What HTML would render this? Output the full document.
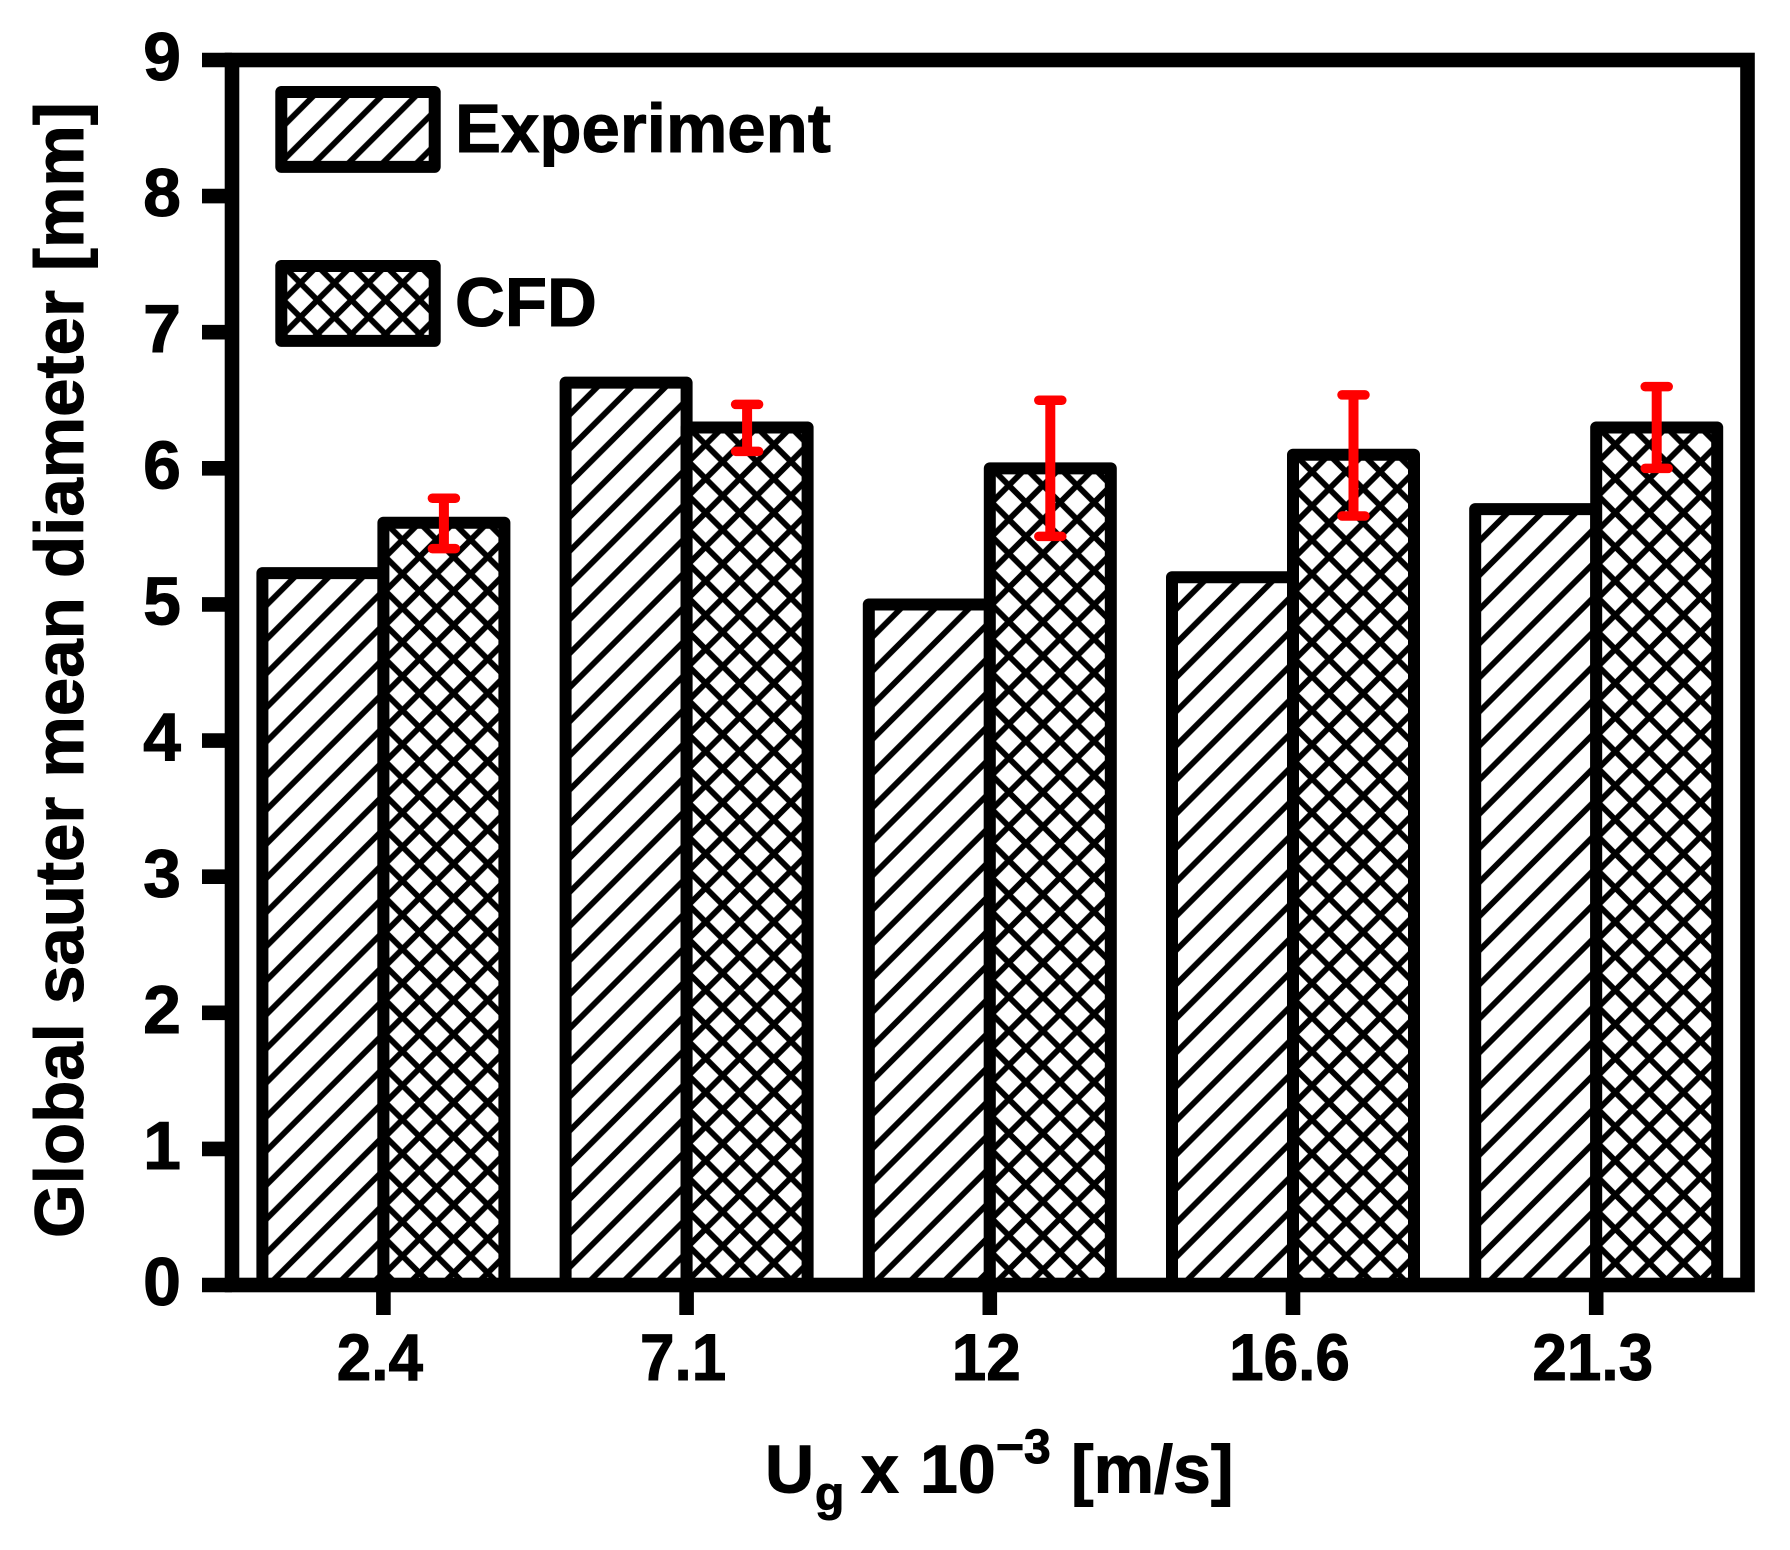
<!DOCTYPE html>
<html lang="en">
<head>
<meta charset="utf-8">
<title>Global sauter mean diameter chart</title>
<style>
html,body{margin:0;padding:0;background:#fff;width:1790px;height:1550px;overflow:hidden}
svg{display:block}
text{font-family:"Liberation Sans",Arial,sans-serif;font-weight:bold;fill:#000;stroke:#000;stroke-width:1}
</style>
</head>
<body>
<svg id="chart" xmlns="http://www.w3.org/2000/svg" width="1790" height="1550" viewBox="0 0 1790 1550">
  <rect x="0" y="0" width="1790" height="1550" fill="#fff"/>
  <defs id="defs"></defs>
  <g id="bars"></g>
  <g id="errors"></g>
  <g id="axes"></g>
  <g id="legend"></g>
  <text transform="translate(83,1238) rotate(-90)" font-size="69.05">Global sauter mean diameter [mm]</text>
  <text font-size="68"><tspan x="765" y="1492.7">U</tspan><tspan x="815" y="1510" font-size="48">g</tspan><tspan x="861" y="1492.7">x</tspan><tspan x="920" y="1492.7">10</tspan><tspan x="996" y="1463" font-size="48">−3</tspan><tspan x="1071" y="1492.7">[m/s]</tspan></text>
</svg>
<script>
const categories = ["2.4", "7.1", "12", "16.6", "21.3"];
const experimentValues = [5.23, 6.63, 5.0, 5.2, 5.7];
const cfdValues = [5.6, 6.3, 6.0, 6.1, 6.3];
const errorHigh = [5.78, 6.47, 6.5, 6.54, 6.6];
const errorLow = [5.41, 6.125, 5.5, 5.65, 6.0];
const yTickLabels = ["0", "1", "2", "3", "4", "5", "6", "7", "8", "9"];
const seriesNames = ["Experiment", "CFD"];

const NS = "http://www.w3.org/2000/svg";
const PLOT = {left: 232, right: 1747.5, top: 60, bottom: 1285};
const Y_MAX = 9;
const BAR_W = 121;
const HATCH = 34.1;

function yScale(v) { return PLOT.bottom - v * (PLOT.bottom - PLOT.top) / Y_MAX; }
function xScale(i) { return 383.4 + i * 303.2; }

function make(tag, attrs, parent) {
  const el = document.createElementNS(NS, tag);
  for (const k in attrs) el.setAttribute(k, attrs[k]);
  parent.appendChild(el);
  return el;
}

const defs = document.getElementById("defs");
let patCount = 0;
function hatchPattern(x, y, cross) {
  const id = "hatch" + (patCount++);
  const p = make("pattern", {id: id, patternUnits: "userSpaceOnUse", x: x + 2, y: y, width: HATCH, height: HATCH}, defs);
  const H = HATCH;
  let d = `M-6,6 L6,-6 M-6,${H + 6} L${H + 6},-6 M${H - 6},${H + 6} L${H + 6},${H - 6}`;
  if (cross) d += ` M${H - 6},-6 L${H + 6},6 M-6,-6 L${H + 6},${H + 6} M-6,${H - 6} L6,${H + 6}`;
  make("path", {d: d, stroke: "#000", "stroke-width": 5.8, fill: "none"}, p);
  return "url(#" + id + ")";
}

function drawBar(parent, x, y, w, h, cross) {
  make("rect", {x: x, y: y, width: w, height: h, fill: "#fff"}, parent);
  const hatch = make("rect", {x: x, y: y, width: w, height: h, fill: hatchPattern(x, y, cross)}, parent);
  const frame = make("rect", {x: x, y: y, width: w, height: h, fill: "none", stroke: "#000", "stroke-width": 12, "stroke-linejoin": "round"}, parent);
  return [hatch, frame];
}

const barsG = document.getElementById("bars");
categories.forEach(function (c, i) {
  const cx = xScale(i);
  const g1 = make("g", {}, barsG);
  
  
  drawBar(g1, cx - BAR_W, yScale(experimentValues[i]), BAR_W, yScale(0) - yScale(experimentValues[i]), false);
});
categories.forEach(function (c, i) {
  const cx = xScale(i);
  const g2 = make("g", {}, barsG);
  
  
  drawBar(g2, cx, yScale(cfdValues[i]), BAR_W, yScale(0) - yScale(cfdValues[i]), true);
});

const errG = document.getElementById("errors");
categories.forEach(function (c, i) {
  const cx = xScale(i) + BAR_W / 2;
  const hi = yScale(errorHigh[i]);
  const lo = yScale(errorLow[i]);
  const g = make("g", {stroke: "#ff0000", fill: "none"}, errG);
  
  
  make("line", {x1: cx, x2: cx, y1: hi, y2: lo, "stroke-width": 10}, g);
  make("line", {x1: cx - 11.5, x2: cx + 11.5, y1: hi, y2: hi, "stroke-width": 9.5, "stroke-linecap": "round"}, g);
  make("line", {x1: cx - 11.5, x2: cx + 11.5, y1: lo, y2: lo, "stroke-width": 9.5, "stroke-linecap": "round"}, g);
});

const axesG = document.getElementById("axes");
const frame = make("rect", {x: PLOT.left, y: PLOT.top, width: PLOT.right - PLOT.left, height: PLOT.bottom - PLOT.top, fill: "none", stroke: "#000", "stroke-width": 14.6}, axesG);



yTickLabels.forEach(function (label, i) {
  const y = yScale(Number(label));
  const tick = make("line", {x1: 202, x2: PLOT.left, y1: y, y2: y, stroke: "#000", "stroke-width": 14.6}, axesG);
  
  
  const t = make("text", {x: 181, y: y + 20, "text-anchor": "end", "font-size": 68}, axesG);
  
  
  t.textContent = label;
});

categories.forEach(function (label, i) {
  const x = xScale(i);
  const tick = make("line", {x1: x, x2: x, y1: PLOT.bottom, y2: 1315, stroke: "#000", "stroke-width": 14.6}, axesG);
  
  
  const t = make("text", {transform: `translate(${x - 3.5},1380) scale(0.94,1)`, x: 0, y: 0, "text-anchor": "middle", "font-size": 66}, axesG);
  
  
  t.textContent = label;
});

const legendG = document.getElementById("legend");
seriesNames.forEach(function (name, i) {
  const top = i === 0 ? 92 : 266;
  const g = make("g", {}, legendG);
  
  
  drawBar(g, 281.3, top, 153.4, 74.9, i === 1);
  const t = make("text", {x: 455, y: top + 60, "font-size": 69}, g);
  
  
  t.textContent = name;
});
</script>
</body>
</html>
